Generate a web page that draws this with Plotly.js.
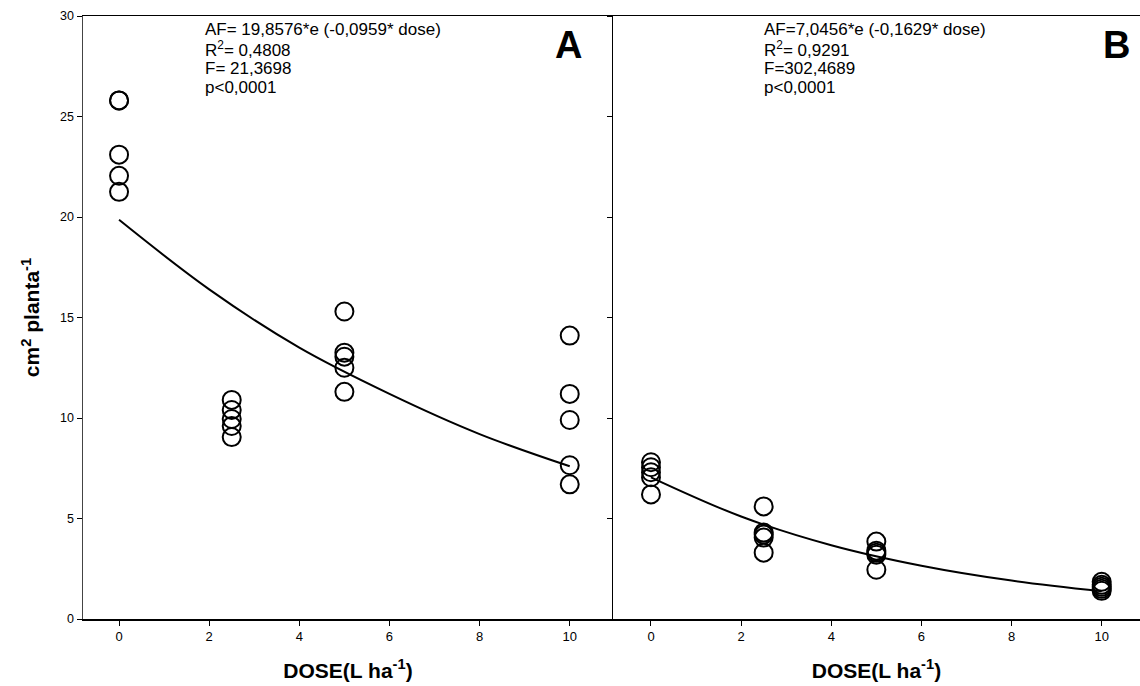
<!DOCTYPE html>
<html>
<head>
<meta charset="utf-8">
<script src="https://cdn.plot.ly/plotly-3.0.1.min.js"></script>
<style>html,body{margin:0;padding:0;background:#fff;}#chart{width:1140px;height:686px;}</style>
</head>
<body>
<div id="chart"></div>
<script>
// Panel A observations
const doseA = [0,0,0,0,0, 2.5,2.5,2.5,2.5,2.5, 5,5,5,5,5, 10,10,10,10,10];
const afA   = [25.8,25.8,23.1,22.05,21.25, 10.9,10.4,9.95,9.6,9.05, 15.3,13.25,13.05,12.5,11.3, 14.1,11.2,9.9,7.65,6.7];
// Panel B observations
const doseB = [0,0,0,0,0, 2.5,2.5,2.5,2.5,2.5, 5,5,5,5,5, 10,10,10,10,10];
const afB   = [7.8,7.55,7.3,7.05,6.2, 5.6,4.3,4.2,4.05,3.3, 3.85,3.4,3.3,3.2,2.45, 1.85,1.7,1.6,1.5,1.4];
// Fitted curves
const fitDose = [0,2,4,6,8,10];
const fitA = [19.86,16.4,13.5,11.2,9.2,7.6];
const fitB = [7.05,5.1,3.67,2.65,1.91,1.38];
// Annotation texts
const textA = ["AF= 19,8576*e (-0,0959* dose)", "R<sup>2</sup>= 0,4808", "F= 21,3698", "p<0,0001"];
const textB = ["AF=7,0456*e (-0,1629* dose)", "R<sup>2</sup>= 0,9291", "F=302,4689", "p<0,0001"];
const xTicks = [0,2,4,6,8,10];
const yTicks = [0,5,10,15,20,25,30];

const marker = {symbol:'circle-open', size:18, color:'#000', line:{color:'#000', width:2}};
const traces = [
  {x:fitDose, y:fitA, mode:'lines', line:{color:'#000', width:2, shape:'spline'}, xaxis:'x', yaxis:'y', hoverinfo:'skip'},
  {x:doseA, y:afA, mode:'markers', marker:marker, xaxis:'x', yaxis:'y'},
  {x:fitDose, y:fitB, mode:'lines', line:{color:'#000', width:2, shape:'spline'}, xaxis:'x2', yaxis:'y2', hoverinfo:'skip'},
  {x:doseB, y:afB, mode:'markers', marker:marker, xaxis:'x2', yaxis:'y2'}
];

const split = (613-83)/(1140-83);
const narrow = '"Liberation Sans Narrow", "Arial Narrow", Arial, sans-serif';
const sans = 'Arial, "Liberation Sans", sans-serif';
const xCommon = {
  tickvals:xTicks, ticks:'outside', ticklen:5, tickcolor:'#000', tickwidth:1,
  showline:true, linecolor:'#000', linewidth:1.5, mirror:true, showgrid:false, zeroline:false,
  tickfont:{family:narrow, size:13, color:'#000'},
  title:{text:'DOSE(L ha<sup>-1</sup>)', font:{family:narrow, size:21, color:'#000', weight:'bold'}, standoff:20}
};
const ann = [];
const lineY = [29.35, 28.35, 27.4, 26.45];
textA.forEach((t,i)=>ann.push({xref:'x', yref:'y', x:1.87, y:lineY[i], text:t, showarrow:false, xanchor:'left', yanchor:'middle', font:{family:sans, size:17, color:'#000'}}));
textB.forEach((t,i)=>ann.push({xref:'x2', yref:'y2', x:2.47, y:lineY[i], text:t, showarrow:false, xanchor:'left', yanchor:'middle', font:{family:sans, size:17, color:'#000'}}));
ann.push({xref:'x', yref:'y', x:9.97, y:28.55, text:'<b>A</b>', showarrow:false, xanchor:'center', yanchor:'middle', font:{family:sans, size:38, color:'#000'}});
ann.push({xref:'x2', yref:'y2', x:10.33, y:28.55, text:'<b>B</b>', showarrow:false, xanchor:'center', yanchor:'middle', font:{family:sans, size:38, color:'#000'}});

const layout = {
  width:1140, height:686,
  margin:{l:83, r:0, t:16, b:67},
  paper_bgcolor:'#fff', plot_bgcolor:'#fff',
  showlegend:false,
  xaxis:Object.assign({}, xCommon, {domain:[0, split], range:[-0.8, 10.96], anchor:'y'}),
  xaxis2:Object.assign({}, xCommon, {domain:[split, 1], range:[-0.843, 10.85], anchor:'y2'}),
  yaxis:{
    range:[0,30], tickvals:yTicks, ticks:'outside', ticklen:5, tickcolor:'#000',
    showline:true, linecolor:'#444', linewidth:1.5, mirror:false, showgrid:false, zeroline:false,
    tickfont:{family:sans, size:12.5, color:'#000'},
    title:{text:'cm<sup>2</sup> planta<sup>-1</sup>', font:{family:sans, size:21, color:'#000', weight:'bold'}, standoff:14},
    anchor:'x'
  },
  yaxis2:{
    range:[0,30], tickvals:yTicks, ticks:'outside', ticklen:5, tickcolor:'#000',
    showline:true, linecolor:'#000', linewidth:1, showticklabels:false, showgrid:false, zeroline:false,
    anchor:'x2'
  },
  annotations:ann
};
Plotly.newPlot('chart', traces, layout, {displayModeBar:false, staticPlot:true});
</script>
</body>
</html>
